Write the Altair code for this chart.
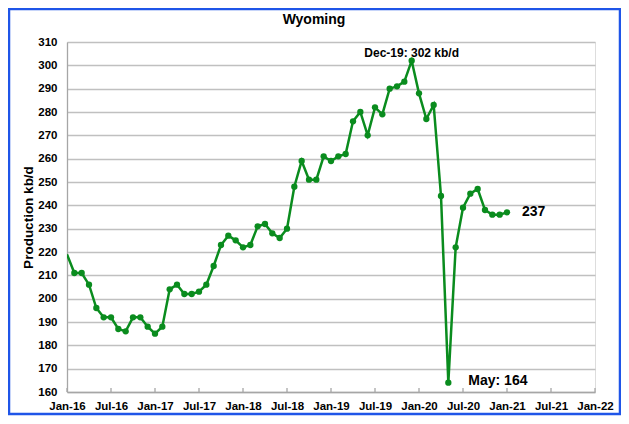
import json
import altair as alt
import pandas as pd

# ---- data ----
months = [
    "2016-01", "2016-02", "2016-03", "2016-04", "2016-05", "2016-06",
    "2016-07", "2016-08", "2016-09", "2016-10", "2016-11", "2016-12",
    "2017-01", "2017-02", "2017-03", "2017-04", "2017-05", "2017-06",
    "2017-07", "2017-08", "2017-09", "2017-10", "2017-11", "2017-12",
    "2018-01", "2018-02", "2018-03", "2018-04", "2018-05", "2018-06",
    "2018-07", "2018-08", "2018-09", "2018-10", "2018-11", "2018-12",
    "2019-01", "2019-02", "2019-03", "2019-04", "2019-05", "2019-06",
    "2019-07", "2019-08", "2019-09", "2019-10", "2019-11", "2019-12",
    "2020-01", "2020-02", "2020-03", "2020-04", "2020-05", "2020-06",
    "2020-07", "2020-08", "2020-09", "2020-10", "2020-11", "2020-12",
    "2021-01",
]
production = [
    219, 211, 211, 206, 196, 192, 192, 187, 186, 192, 192, 188,
    185, 188, 204, 206, 202, 202, 203, 206, 214, 223, 227, 225,
    222, 223, 231, 232, 228, 226, 230, 248, 259, 251, 251, 261,
    259, 261, 262, 276, 280, 270, 282, 279, 290, 291, 293, 302,
    288, 277, 283, 244, 164, 222, 239, 245, 247, 238, 236, 236,
    237,
]
tick_labels = ["Jan-16", "Jul-16", "Jan-17", "Jul-17", "Jan-18", "Jul-18",
               "Jan-19", "Jul-19", "Jan-20", "Jul-20", "Jan-21", "Jul-21",
               "Jan-22"]
y_ticks = [160, 170, 180, 190, 200, 210, 220, 230, 240, 250, 260, 270,
           280, 290, 300, 310]
ann_months = ["2019-12", "2020-05", "2021-01"]
ann_texts = ["Dec-19: 302 kb/d", "May: 164", "237"]

# ---- tables ----
def month_index(m):
    y, mo = m.split("-")
    return (int(y) - 2016) * 12 + int(mo) - 1

df = pd.DataFrame({"month": months, "production": production})
df["idx"] = df["month"].map(month_index)

tick_idx = [i * 6 for i in range(len(tick_labels))]
ticks_df = pd.DataFrame({"idx": tick_idx})

ann_df = pd.DataFrame({"month": ann_months, "label": ann_texts}).merge(df, on="month")

FONT = "Liberation Sans"
GREEN = "#0a8c1e"
GRID = "#c0c0c0"

label_expr = json.dumps(tick_labels) + "[round(datum.value / 6)]"

x_enc = alt.X(
    "idx:Q",
    scale=alt.Scale(domain=[0, 72], nice=False, zero=False),
    axis=alt.Axis(
        values=tick_idx, labelExpr=label_expr, grid=False, ticks=False,
        domainColor="#a6a6a6", domainWidth=1.3,
        labelFont=FONT, labelFontWeight="bold", labelFontSize=11.5,
        labelColor="black", labelPadding=8, labelFlush=False,
        labelOverlap=False, title=None,
    ),
)
y_enc = alt.Y(
    "production:Q",
    scale=alt.Scale(domain=[160, 310], nice=False, zero=False),
    axis=alt.Axis(
        values=y_ticks, grid=True, gridColor=GRID, gridWidth=1.3,
        ticks=False, domainColor="#a6a6a6", domainWidth=1.3,
        labelFont=FONT, labelFontWeight="bold", labelFontSize=11.5,
        labelColor="black", labelPadding=10,
        title="Production kb/d", titleFont=FONT, titleFontWeight="bold",
        titleFontSize=13.5, titleColor="black", titlePadding=2,
    ),
)

base = alt.Chart(df)

line = base.mark_line(color=GREEN, strokeWidth=2.5, clip=True).encode(x=x_enc, y=y_enc)
points = base.transform_filter("datum.idx > 0").mark_circle(
    color=GREEN, size=40, opacity=1, clip=True
).encode(x=x_enc, y=y_enc)

tick_marks = alt.Chart(ticks_df).mark_rule(color="#a6a6a6", strokeWidth=1.3).encode(
    x=x_enc, y=alt.value(350), y2=alt.value(346)
)

ann = alt.Chart(ann_df)
txt_style = dict(font=FONT, fontWeight="bold", color="black")
peak_lbl = ann.transform_filter("datum.month == '2019-12'").mark_text(
    align="center", baseline="alphabetic", dy=-4, fontSize=12, **txt_style
).encode(x=x_enc, y=y_enc, text="label:N")
may_lbl = ann.transform_filter("datum.month == '2020-05'").mark_text(
    align="left", baseline="middle", dx=20, dy=-2, fontSize=14, **txt_style
).encode(x=x_enc, y=y_enc, text="label:N")
last_lbl = ann.transform_filter("datum.month == '2021-01'").mark_text(
    align="left", baseline="middle", dx=15, dy=0, fontSize=14, **txt_style
).encode(x=x_enc, y=y_enc, text="label:N")

border = alt.Chart(pd.DataFrame({"b": [0]})).mark_rect(
    fillOpacity=0, stroke="#1f55e8", strokeWidth=2.5
).encode(x=alt.value(-58), x2=alt.value(553), y=alt.value(-33), y2=alt.value(372))

chart = alt.layer(
    tick_marks, line, points, peak_lbl, may_lbl, last_lbl, border
).properties(
    width=528,
    height=350,
    title=alt.TitleParams(
        "Wyoming", font=FONT, fontSize=14, fontWeight="bold", color="black",
        anchor="middle", frame="group", dx=-17, dy=29, offset=10,
    ),
    padding={"left": 59, "top": 34, "right": 26, "bottom": 24},
    autosize=alt.AutoSizeParams(type="none"),
).configure_view(stroke=None).configure(background="white")

chart.save("out.html", embed_options={"renderer": "svg", "actions": False})
